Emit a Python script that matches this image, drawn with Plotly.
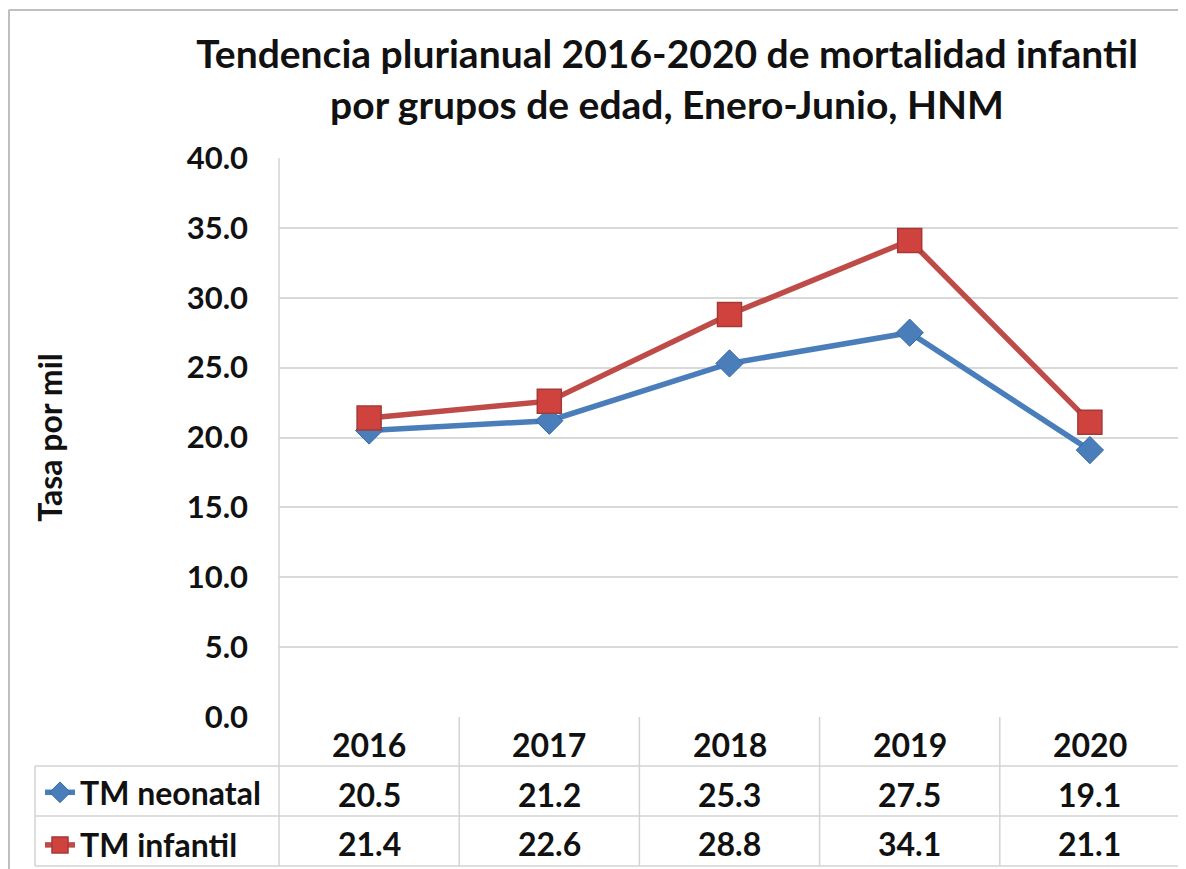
import plotly.graph_objects as go

years = ["2016", "2017", "2018", "2019", "2020"]
neonatal = [20.5, 21.2, 25.3, 27.5, 19.1]
infantil = [21.4, 22.6, 28.8, 34.1, 21.1]
series_names = ["TM neonatal", "TM infantil"]
y_ticks = [0, 5, 10, 15, 20, 25, 30, 35, 40]

# page body has an 8px margin; the figure fills the rest of the window
OFF = 8
W, H = 1186 - OFF, 869 - OFF
FONT = "Lato"
BLUE = "#4A7EBB"
RED = "#BE4B48"
GRID = "#D9D9D9"
TLINE = "#D3D3D3"
TXT = "#111111"


def px(x):
    return (x - OFF) / W


def py(y):
    return 1 - (y - OFF) / H


PL, PR, PT, PB = 279, 1180, 158, 717
xs = list(range(len(years)))

fig = go.Figure()
fig.add_trace(go.Scatter(
    x=xs, y=neonatal, name=f"<b>{series_names[0]}</b>", mode="lines+markers",
    line=dict(color=BLUE, width=5.5),
    marker=dict(symbol="diamond", size=21, color=BLUE, line=dict(color="#3A6AA6", width=1)),
    legendgroup="a",
))
fig.add_trace(go.Scatter(
    x=xs, y=infantil, name=f"<b>{series_names[1]}</b>", mode="lines+markers",
    line=dict(color=RED, width=5.5),
    marker=dict(symbol="square", size=24, color="#D0423E", line=dict(color="#A33A37", width=1.5)),
    legendgroup="b",
))

shapes = []
# outer chart border (top and left)
shapes.append(dict(type="line", xref="paper", yref="paper", x0=px(8.5), x1=px(1200), y0=py(10), y1=py(10),
                   line=dict(color="#BFBFBF", width=2)))
shapes.append(dict(type="line", xref="paper", yref="paper", x0=px(9), x1=px(9), y0=py(10), y1=py(900),
                   line=dict(color="#BFBFBF", width=2)))
# left vertical axis / table line
shapes.append(dict(type="line", xref="paper", yref="paper", x0=px(PL), x1=px(PL), y0=py(PT), y1=py(866),
                   line=dict(color=TLINE, width=1.5)))
# table vertical column separators
for i in range(1, len(years) + 1):
    shapes.append(dict(type="line", xref="x", yref="paper", x0=i - 0.5, x1=i - 0.5, y0=py(PB), y1=py(866),
                       line=dict(color=TLINE, width=1.5)))
# table horizontal lines
for yy in [766, 816, 866]:
    shapes.append(dict(type="line", xref="paper", yref="paper", x0=px(35), x1=px(PR), y0=py(yy), y1=py(yy),
                       line=dict(color=TLINE, width=1.5)))
shapes.append(dict(type="line", xref="paper", yref="paper", x0=px(35), x1=px(35), y0=py(766), y1=py(866),
                   line=dict(color=TLINE, width=1.5)))

annotations = []
tfont = dict(family=FONT, size=32, color=TXT)
for i, yr in enumerate(years):
    annotations.append(dict(x=i, y=py(744), xref="x", yref="paper", text=f"<b>{yr}</b>",
                            showarrow=False, font=tfont, xanchor="center", yanchor="middle"))
    annotations.append(dict(x=i, y=py(794), xref="x", yref="paper", text=f"<b>{neonatal[i]:.1f}</b>",
                            showarrow=False, font=tfont, xanchor="center", yanchor="middle"))
    annotations.append(dict(x=i, y=py(843), xref="x", yref="paper", text=f"<b>{infantil[i]:.1f}</b>",
                            showarrow=False, font=tfont, xanchor="center", yanchor="middle"))

fig.update_layout(
    width=W, height=H,
    margin=dict(l=0, r=0, t=0, b=0, autoexpand=False),
    paper_bgcolor="white", plot_bgcolor="white",
    font=dict(family=FONT, color=TXT),
    title=dict(
        text="<b>Tendencia plurianual 2016-2020 de mortalidad infantil<br>por grupos de edad, Enero-Junio, HNM</b>",
        x=px(667), xanchor="center", xref="paper",
        y=py(68), yanchor="middle", yref="container",
        font=dict(family=FONT, size=39, color=TXT),
    ),
    xaxis=dict(domain=[px(PL), px(PR)], range=[-0.5, len(years) - 0.5], automargin=False,
               showticklabels=False, showgrid=False, zeroline=False, showline=False, ticks=""),
    yaxis=dict(domain=[py(PB), py(PT)], range=[0, 40], tickvals=y_ticks, automargin=False,
               ticktext=[f"<b>{v:.1f}</b>" for v in y_ticks],
               tickfont=dict(family=FONT, size=31, color=TXT),
               showgrid=True, gridcolor=GRID, gridwidth=2, zeroline=False, showline=False,
               ticks="", ticklabelstandoff=30,
               title=dict(text="<b>Tasa por mil</b>", font=dict(family=FONT, size=32, color=TXT),
                          standoff=114)),
    showlegend=True,
    legend=dict(x=px(40), y=py(765), xanchor="left", yanchor="top",
                font=dict(family=FONT, size=32, color=TXT),
                traceorder="grouped", tracegroupgap=8, bgcolor="rgba(0,0,0,0)",
                itemwidth=30),
    shapes=shapes,
    annotations=annotations,
)

fig.write_html("out.html")
